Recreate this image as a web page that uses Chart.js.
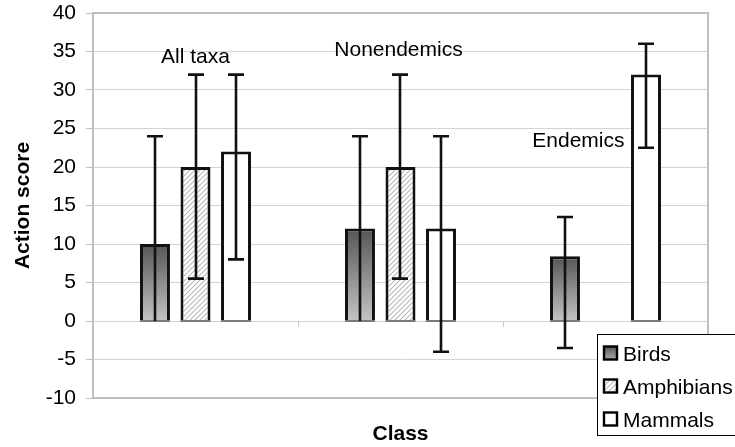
<!DOCTYPE html>
<html>
<head>
<meta charset="utf-8">
<script src="https://cdn.jsdelivr.net/npm/chart.js@4/dist/chart.umd.min.js"></script>
<style>
  html, body { margin:0; padding:0; background:#fff; }
  #wrap { width:735px; height:447px; position:relative; }
</style>
</head>
<body>
<div id="wrap"><canvas id="c" width="735" height="447"></canvas></div>
<script>
// ---- data ----
const categories = ["All taxa", "Nonendemics", "Endemics"];
const seriesNames = ["Birds", "Amphibians", "Mammals"];
const birds      = [10, 12, 8.4];
const amphibians = [20, 20, null];
const mammals    = [22, 12, 32];
const birdsLow      = [0, 0, -3.5];
const birdsHigh     = [24, 24, 13.5];
const amphibiansLow = [5.5, 5.5, null];
const amphibiansHigh= [32, 32, null];
const mammalsLow    = [8, -4, 22.5];
const mammalsHigh   = [32, 24, 36];
const yMin = -10, yMax = 40, yStep = 5;
const xTitle = "Class";
const yTitle = "Action score";

const FONT = "'Liberation Sans', Arial, sans-serif";
const FS = 21;

// hatch pattern for amphibians
function makeHatch() {
  const p = document.createElement('canvas');
  p.width = 5; p.height = 5;
  const g = p.getContext('2d');
  g.fillStyle = '#ffffff'; g.fillRect(0,0,5,5);
  g.strokeStyle = '#b8b8b8'; g.lineWidth = 1.1;
  g.beginPath();
  g.moveTo(-1,6); g.lineTo(6,-1);
  g.moveTo(-1,1); g.lineTo(1,-1);
  g.moveTo(4,6); g.lineTo(6,4);
  g.stroke();
  return g.createPattern(p, 'repeat');
}
const hatch = makeHatch();

function birdFill(ctx) {
  const chart = ctx.chart;
  const y = chart.scales && chart.scales.y;
  if (!y || ctx.raw == null || !chart.chartArea) return '#888';
  const top = y.getPixelForValue(ctx.raw);
  const base = y.getPixelForValue(0);
  const g = chart.ctx.createLinearGradient(0, top, 0, base);
  g.addColorStop(0, '#555555');
  g.addColorStop(1, '#c4c4c4');
  return g;
}

const errLow = [birdsLow, amphibiansLow, mammalsLow];
const errHigh = [birdsHigh, amphibiansHigh, mammalsHigh];

// annotation placement (baseline value, horizontal offset from category centre)
const annotations = [
  { dx: 0,   v: 33.5, align: 'center' },
  { dx: -2,  v: 34.4, align: 'center' },
  { dx: 19,  v: 22.6, align: 'right' }
];

const extras = {
  id: 'extras',
  beforeDatasetsDraw(chart) {
    const { ctx, chartArea: a, scales: { x, y } } = chart;
    ctx.save();
    ctx.strokeStyle = '#c8c8c8'; ctx.lineWidth = 1;
    const z = y.getPixelForValue(0);
    for (let i = 1; i < categories.length; i++) {
      const xb = (x.getPixelForValue(i - 1) + x.getPixelForValue(i)) / 2;
      ctx.beginPath(); ctx.moveTo(Math.round(xb) + 0.5, z); ctx.lineTo(Math.round(xb) + 0.5, z + 6); ctx.stroke();
    }
    ctx.strokeStyle = '#c0c0c0'; ctx.lineWidth = 2;
    ctx.strokeRect(a.left, a.top, a.right - a.left, a.bottom - a.top);
    ctx.restore();
  },
  afterDatasetsDraw(chart) {
    const { ctx, scales: { x, y } } = chart;
    ctx.save();
    // grey base line under each bar
    ctx.strokeStyle = '#7a7a7a'; ctx.lineWidth = 2;
    const z = y.getPixelForValue(0);
    chart.data.datasets.forEach((ds, di) => {
      chart.getDatasetMeta(di).data.forEach((bar, i) => {
        if (ds.data[i] == null) return;
        ctx.beginPath(); ctx.moveTo(bar.x - bar.width / 2, z); ctx.lineTo(bar.x + bar.width / 2, z); ctx.stroke();
      });
    });
    ctx.strokeStyle = '#111'; ctx.lineWidth = 2.6;
    chart.data.datasets.forEach((ds, di) => {
      const meta = chart.getDatasetMeta(di);
      meta.data.forEach((bar, i) => {
        const lo = errLow[di][i], hi = errHigh[di][i];
        if (ds.data[i] == null || hi == null) return;
        const cx = Math.round(bar.x);
        const yh = y.getPixelForValue(hi), yl = y.getPixelForValue(lo);
        ctx.beginPath();
        ctx.moveTo(cx, yh); ctx.lineTo(cx, yl);
        ctx.moveTo(cx - 8, yh); ctx.lineTo(cx + 8, yh);
        if (lo !== 0) { ctx.moveTo(cx - 8, yl); ctx.lineTo(cx + 8, yl); }
        ctx.stroke();
      });
    });
    ctx.fillStyle = '#000';
    ctx.font = FS + 'px ' + FONT;
    ctx.textBaseline = 'alphabetic';
    categories.forEach((c, i) => {
      const an = annotations[i];
      ctx.textAlign = an.align;
      ctx.fillText(c, x.getPixelForValue(i) + an.dx, y.getPixelForValue(an.v));
    });
    ctx.restore();
  },
  afterDraw(chart) {
    const { ctx } = chart;
    ctx.save();
    const bx = 597, by = 334, bw = 150, bh = 101;
    ctx.fillStyle = '#fff';
    ctx.fillRect(bx, by, bw, bh);
    ctx.strokeStyle = '#000'; ctx.lineWidth = 1;
    ctx.strokeRect(bx + 0.5, by + 0.5, bw, bh);
    ctx.font = FS + 'px ' + FONT;
    ctx.textBaseline = 'alphabetic';
    ctx.textAlign = 'left';
    chart.data.datasets.forEach((ds, i) => {
      const cy = by + 19 + i * 33;
      const sx = 604, s = 13;
      if (i === 0) {
        const g = ctx.createLinearGradient(0, cy - s/2, 0, cy + s/2);
        g.addColorStop(0, '#555'); g.addColorStop(1, '#aaa');
        ctx.fillStyle = g;
      } else if (i === 1) {
        ctx.fillStyle = hatch;
      } else ctx.fillStyle = '#fff';
      ctx.fillRect(sx, cy - s/2, s, s);
      ctx.strokeStyle = '#000'; ctx.lineWidth = 2.4;
      ctx.strokeRect(sx, cy - s/2, s, s);
      ctx.fillStyle = '#000';
      ctx.fillText(ds.label, 623, cy + 7.5);
    });
    ctx.restore();
  }
};

const dsCommon = { borderColor: '#111', borderWidth: 3, borderSkipped: 'start' };

new Chart(document.getElementById('c'), {
  type: 'bar',
  data: {
    labels: categories,
    datasets: [
      Object.assign({ label: seriesNames[0], data: birds, backgroundColor: birdFill }, dsCommon),
      Object.assign({ label: seriesNames[1], data: amphibians, backgroundColor: hatch }, dsCommon),
      Object.assign({ label: seriesNames[2], data: mammals, backgroundColor: '#ffffff' }, dsCommon)
    ]
  },
  options: {
    responsive: false,
    animation: false,
    events: [],
    datasets: { bar: { categoryPercentage: 0.593, barPercentage: 0.74 } },
    layout: { padding: { left: 11, right: 27, top: 0, bottom: 0 } },
    plugins: { legend: { display: false }, tooltip: { enabled: false } },
    scales: {
      x: {
        grid: { display: false },
        border: { display: false },
        ticks: { display: false },
        title: { display: true, text: xTitle, color: '#000', font: { family: FONT, size: FS, weight: 'bold' }, padding: { top: 0, bottom: 0 } },
        afterFit(s) { s.height = 49; }
      },
      y: {
        min: yMin, max: yMax,
        ticks: { stepSize: yStep, color: '#000', font: { family: FONT, size: FS }, padding: 10 },
        grid: { color: '#d4d4d4', lineWidth: 1, tickLength: 7, tickColor: '#c0c0c0' },
        border: { display: false },
        title: { display: true, text: yTitle, color: '#000', font: { family: FONT, size: FS, weight: 'bold' }, padding: { top: 0, bottom: 4 } },
        afterFit(s) { s.width = 82; s.paddingTop = 13; }
      }
    }
  },
  plugins: [extras]
});
</script>
</body>
</html>
